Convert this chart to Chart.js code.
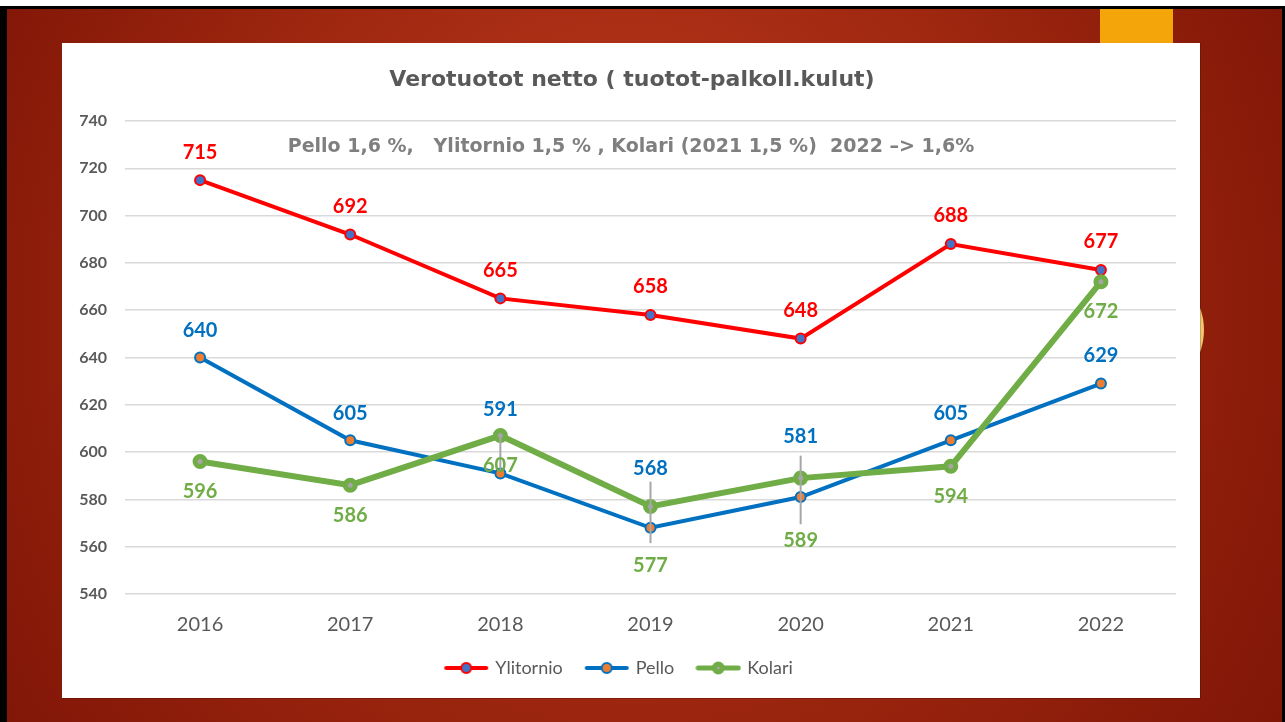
<!DOCTYPE html>
<html>
<head>
<meta charset="utf-8">
<script src="https://cdn.jsdelivr.net/npm/chart.js@4/dist/chart.umd.min.js"></script>
<style>
  html, body { margin: 0; padding: 0; background: #fff; }
  #wrap { width: 1285px; height: 722px; position: relative; }
  canvas { display: block; }
</style>
</head>
<body>
<div id="wrap"><canvas id="c" width="1285" height="722"></canvas></div>
<script>
// ---- data ----
const years = ['2016', '2017', '2018', '2019', '2020', '2021', '2022'];
const ylitornio = [715, 692, 665, 658, 648, 688, 677];
const pello = [640, 605, 591, 568, 581, 605, 629];
const kolari = [596, 586, 607, 577, 589, 594, 672];
const seriesNames = ['Ylitornio', 'Pello', 'Kolari'];
const yTicks = { min: 540, max: 740, step: 20 };
const titleText = 'Verotuotot netto ( tuotot-palkoll.kulut)';
const noteText = 'Pello 1,6 %,   Ylitornio 1,5 % , Kolari (2021 1,5 %)  2022 \u2013> 1,6%';

// ---- styling (label placement, leader lines) ----
const labelOffsets = [
  [-28, -28, -28, -28, -28, -28, -28],
  [-27, -27, -64, -59, -60, -27, -28],
  [30, 30, 30, 59, 62, 30, 30]
];
// leader lines: [category index, from value, to value]
const leaderLines = [[2, 607.5, 592], [3, 587.5, 561.5], [4, 598.5, 569.5]];

const colors = {
  red: '#ff0000', blue: '#0070c0', green: '#70ad47',
  redFill: '#4472c4', blueFill: '#ed7d31', greenFill: '#a5a5a5',
  text: '#595959', note: '#7f7f7f', grid: '#d9d9d9'
};

function legendIcon(line, lw, fill, border, r, bw) {
  const c = document.createElement('canvas');
  c.width = 46; c.height = 18;
  const x = c.getContext('2d');
  x.strokeStyle = line; x.lineWidth = lw; x.lineCap = 'round';
  x.beginPath(); x.moveTo(3, 9); x.lineTo(43, 9); x.stroke();
  x.beginPath(); x.arc(23, 9, r, 0, Math.PI * 2);
  x.fillStyle = fill; x.fill();
  x.lineWidth = bw; x.strokeStyle = border; x.stroke();
  return c;
}
const icons = [
  legendIcon(colors.red, 4, colors.redFill, colors.red, 5, 2),
  legendIcon(colors.blue, 4, colors.blueFill, colors.blue, 5, 2),
  legendIcon(colors.green, 5, colors.greenFill, colors.green, 4, 5)
];

const bgPlugin = {
  id: 'slideBg',
  beforeDraw(chart) {
    const ctx = chart.ctx;
    ctx.save();
    ctx.fillStyle = '#ffffff';
    ctx.fillRect(0, 0, 1285, 722);
    ctx.fillStyle = '#000000';
    ctx.fillRect(0, 6, 1285, 716);
    const g = ctx.createRadialGradient(620, 200, 20, 640, 360, 820);
    g.addColorStop(0, '#b5361a');
    g.addColorStop(0.45, '#a02810');
    g.addColorStop(1, '#7a1205');
    ctx.fillStyle = g;
    ctx.fillRect(7, 9, 1275, 713);
    // orange accent
    ctx.fillStyle = '#f4a50a';
    ctx.fillRect(1100, 9, 73, 34);
    // yellow arc peeking
    ctx.beginPath();
    ctx.arc(1140, 330, 64, 0, Math.PI * 2);
    ctx.fillStyle = '#f2c66e';
    ctx.fill();
    // white panel
    ctx.fillStyle = 'rgba(0,0,0,0.18)';
    ctx.fillRect(62, 43, 1139, 656);
    ctx.fillStyle = '#ffffff';
    ctx.fillRect(62, 43, 1138, 655);
    // title
    ctx.fillStyle = colors.text;
    ctx.font = 'bold 22px "DejaVu Sans", sans-serif';
    ctx.textAlign = 'center';
    ctx.textBaseline = 'middle';
    ctx.fillText(titleText, 632, 80);
    ctx.restore();
  },
  beforeDatasetsDraw(chart) {
    const ctx = chart.ctx;
    ctx.save();
    ctx.fillStyle = colors.note;
    ctx.font = 'bold 19px "DejaVu Sans", sans-serif';
    ctx.textAlign = 'center';
    ctx.textBaseline = 'middle';
    ctx.fillText(noteText, 631, 147);
    ctx.restore();
  }
};

const labelPlugin = {
  id: 'valueLabels',
  afterDatasetsDraw(chart) {
    const ctx = chart.ctx;
    const xs = chart.scales.x, ys = chart.scales.y;
    ctx.save();
    ctx.strokeStyle = '#a6a6a6';
    ctx.lineWidth = 2;
    leaderLines.forEach(([i, a, b]) => {
      const x = xs.getPixelForValue(i);
      ctx.beginPath();
      ctx.moveTo(x, ys.getPixelForValue(a));
      ctx.lineTo(x, ys.getPixelForValue(b));
      ctx.stroke();
    });
    ctx.font = 'bold 20px Lato, sans-serif';
    ctx.textAlign = 'center';
    ctx.textBaseline = 'middle';
    chart.data.datasets.forEach((ds, di) => {
      const meta = chart.getDatasetMeta(di);
      ctx.fillStyle = ds.borderColor;
      meta.data.forEach((pt, i) => {
        ctx.fillText(String(ds.data[i]), pt.x, pt.y + labelOffsets[di][i]);
      });
    });
    ctx.restore();
  }
};

new Chart(document.getElementById('c'), {
  type: 'line',
  data: {
    labels: years,
    datasets: [
      { label: seriesNames[0], data: ylitornio, borderColor: colors.red, borderWidth: 4,
        pointBackgroundColor: colors.redFill, pointBorderColor: colors.red, pointBorderWidth: 2,
        pointRadius: 5, order: 3, tension: 0 },
      { label: seriesNames[1], data: pello, borderColor: colors.blue, borderWidth: 4,
        pointBackgroundColor: colors.blueFill, pointBorderColor: colors.blue, pointBorderWidth: 2,
        pointRadius: 5, order: 2, tension: 0 },
      { label: seriesNames[2], data: kolari, borderColor: colors.green, borderWidth: 6,
        pointBackgroundColor: colors.greenFill, pointBorderColor: colors.green, pointBorderWidth: 5,
        pointRadius: 5, order: 1, tension: 0 }
    ]
  },
  options: {
    responsive: false,
    animation: false,
    layout: { padding: { left: 63, right: 109, top: 121, bottom: 35 } },
    plugins: {
      title: { display: false },
      tooltip: { enabled: false },
      legend: {
        position: 'bottom',
        labels: {
          usePointStyle: true,
          pointStyleWidth: 40,
          padding: 24,
          color: colors.text,
          font: { family: 'Lato', size: 18 },
          sort: (a, b) => a.datasetIndex - b.datasetIndex,
          generateLabels(chart) {
            const items = Chart.defaults.plugins.legend.labels.generateLabels(chart);
            items.forEach(it => { it.pointStyle = icons[it.datasetIndex]; });
            return items;
          }
        }
      }
    },
    scales: {
      x: {
        offset: true,
        grid: { display: false, drawTicks: false },
        border: { display: false },
        ticks: { color: colors.text, font: { family: 'Lato', size: 20 }, padding: 19 },
        afterFit(s) { s.height = 41; }
      },
      y: {
        min: yTicks.min, max: yTicks.max,
        grid: { color: colors.grid, lineWidth: 1.5, drawTicks: false },
        border: { display: false },
        ticks: { stepSize: yTicks.step, color: colors.text, padding: 18,
                 font: { family: 'Lato', size: 16, weight: 'bold' } },
        afterFit(s) { s.width = 62; }
      }
    }
  },
  plugins: [bgPlugin, labelPlugin]
});
</script>
</body>
</html>
